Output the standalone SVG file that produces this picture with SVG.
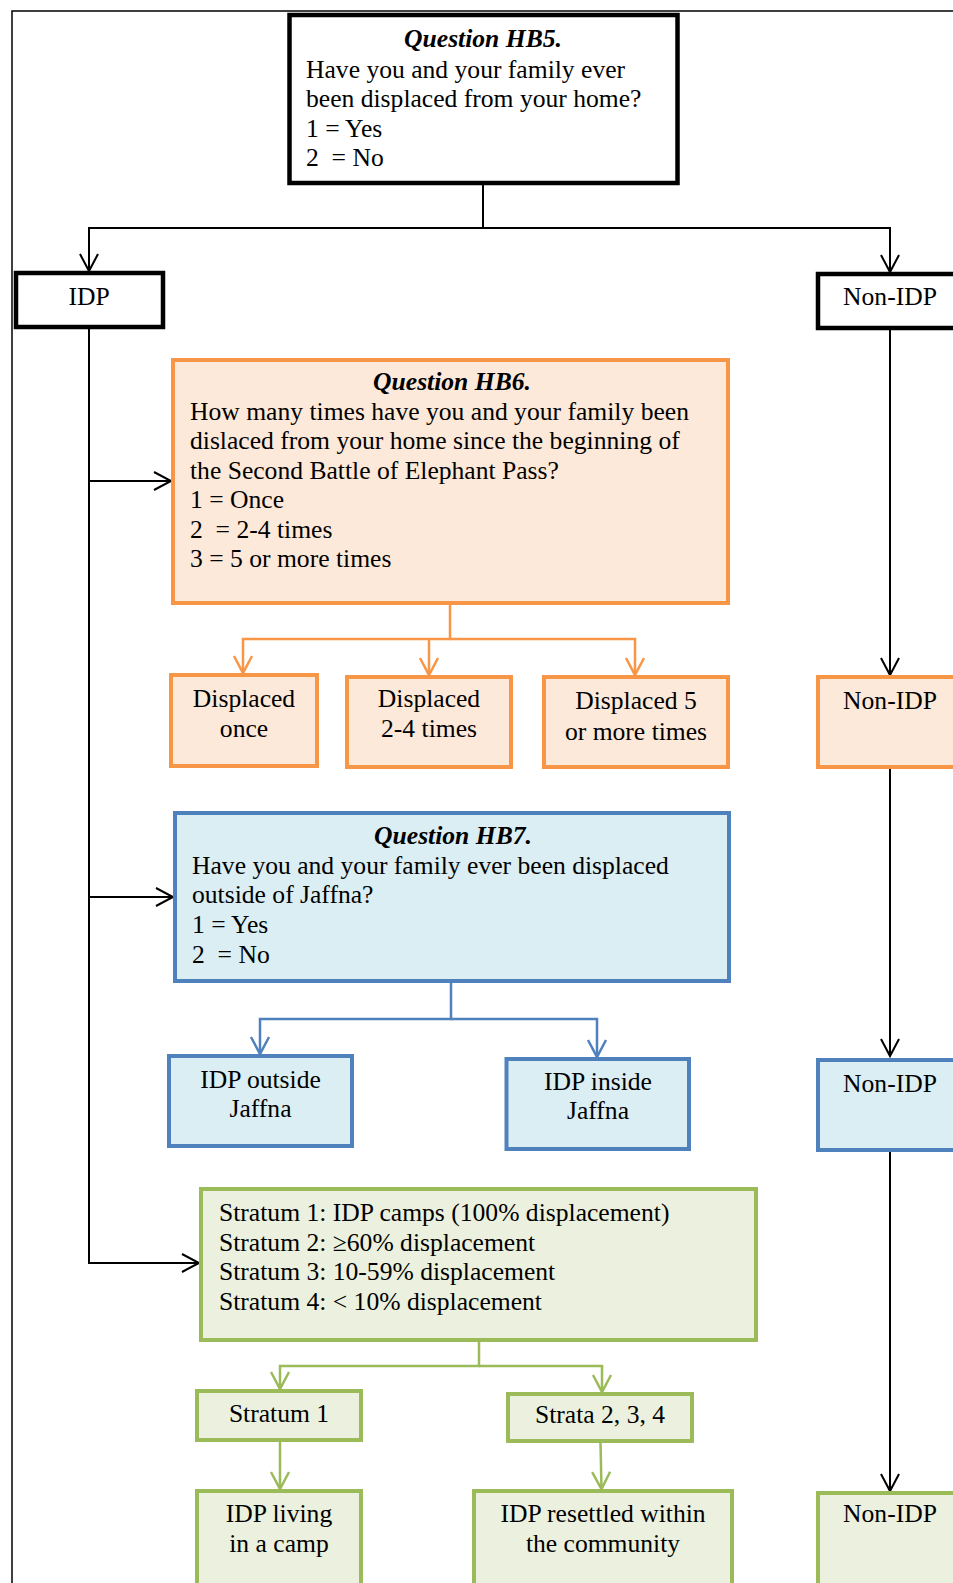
<svg xmlns="http://www.w3.org/2000/svg" width="953" height="1583" viewBox="0 0 953 1583">
<defs>
<style>
text{font-family:"Liberation Serif","Times New Roman",serif;font-size:25.6px;fill:#000;white-space:pre}
.t{font-weight:bold;font-style:italic;text-anchor:middle}
.c{text-anchor:middle}
.bk{fill:#fff;stroke:#000;stroke-width:4.5}
.or{fill:#FDE9D9;stroke:#F79646;stroke-width:4}
.bl{fill:#DBEEF3;stroke:#4F81BD;stroke-width:4}
.gr{fill:#EBF1DE;stroke:#9BBB59;stroke-width:4}
.lk{fill:none;stroke:#000;stroke-width:2}
.lo{fill:none;stroke:#F79646;stroke-width:2.5}
.lb{fill:none;stroke:#4F81BD;stroke-width:2.5}
.lg{fill:none;stroke:#9BBB59;stroke-width:2.5}
</style>
<marker id="ak" markerUnits="userSpaceOnUse" markerWidth="24" markerHeight="24" refX="0" refY="0" orient="auto" overflow="visible"><path d="M-17,-9 L0,0 L-17,9" fill="none" stroke="#000" stroke-width="2"/></marker>
<marker id="ao" markerUnits="userSpaceOnUse" markerWidth="24" markerHeight="24" refX="0" refY="0" orient="auto" overflow="visible"><path d="M-17,-9 L0,0 L-17,9" fill="none" stroke="#F79646" stroke-width="2.5"/></marker>
<marker id="ab" markerUnits="userSpaceOnUse" markerWidth="24" markerHeight="24" refX="0" refY="0" orient="auto" overflow="visible"><path d="M-17,-9 L0,0 L-17,9" fill="none" stroke="#4F81BD" stroke-width="2.5"/></marker>
<marker id="ag" markerUnits="userSpaceOnUse" markerWidth="24" markerHeight="24" refX="0" refY="0" orient="auto" overflow="visible"><path d="M-17,-9 L0,0 L-17,9" fill="none" stroke="#9BBB59" stroke-width="2.5"/></marker>
</defs>
<rect width="953" height="1583" fill="#fff"/>
<path d="M12,1583 V11 H953" fill="none" stroke="#000" stroke-width="1.5"/>

<g id="connectors">
<path class="lk" d="M483,185 V228 H89 V271" marker-end="url(#ak)"/>
<path class="lk" d="M483,228 H890 V272" marker-end="url(#ak)"/>
<path class="lk" d="M89,328 V1263 H199" marker-end="url(#ak)"/>
<path class="lk" d="M89,481 H171" marker-end="url(#ak)"/>
<path class="lk" d="M89,897 H173" marker-end="url(#ak)"/>
<path class="lk" d="M890,329 V675" marker-end="url(#ak)"/>
<path class="lk" d="M890,769 V1056" marker-end="url(#ak)"/>
<path class="lk" d="M890,1152 V1491" marker-end="url(#ak)"/>
<path class="lo" d="M450,604 V639 H243 V673" marker-end="url(#ao)"/>
<path class="lo" d="M450,639 H635 V675" marker-end="url(#ao)"/>
<path class="lo" d="M429,639 V675" marker-end="url(#ao)"/>
<path class="lb" d="M451,983 V1019 H260 V1054" marker-end="url(#ab)"/>
<path class="lb" d="M451,1019 H597 V1057" marker-end="url(#ab)"/>
<path class="lg" d="M479,1342 V1366 H280 V1389" marker-end="url(#ag)"/>
<path class="lg" d="M479,1366 H602 V1392" marker-end="url(#ag)"/>
<path class="lg" d="M280,1442 V1489" marker-end="url(#ag)"/>
<path class="lg" d="M600.5,1443 L601.5,1489" marker-end="url(#ag)"/>
</g>

<g id="hb5">
<rect class="bk" x="289.5" y="15" width="388" height="168"/>
<text class="t" x="483" y="47">Question HB5.</text>
<text x="306" y="78">Have you and your family ever</text>
<text x="306" y="107">been displaced from your home?</text>
<text x="306" y="137">1 = Yes</text>
<text x="306" y="166">2  = No</text>
</g>

<g id="idp">
<rect class="bk" x="16" y="273" width="147" height="54"/>
<text class="c" x="89" y="305">IDP</text>
</g>
<g id="nonidp1">
<rect class="bk" x="818" y="274" width="200" height="54"/>
<text class="c" x="890" y="305">Non-IDP</text>
</g>

<g id="hb6">
<rect class="or" x="173" y="360" width="555" height="243"/>
<text class="t" x="452" y="390">Question HB6.</text>
<text x="190" y="420">How many times have you and your family been</text>
<text x="190" y="449">dislaced from your home since the beginning of</text>
<text x="190" y="479">the Second Battle of Elephant Pass?</text>
<text x="190" y="508">1 = Once</text>
<text x="190" y="538">2  = 2-4 times</text>
<text x="190" y="567">3 = 5 or more times</text>
</g>

<g id="once">
<rect class="or" x="171" y="675" width="146" height="91"/>
<text class="c" x="244" y="707">Displaced</text>
<text class="c" x="244" y="737">once</text>
</g>
<g id="twofour">
<rect class="or" x="347" y="677" width="164" height="90"/>
<text class="c" x="429" y="707">Displaced</text>
<text class="c" x="429" y="737">2-4 times</text>
</g>
<g id="fiveplus">
<rect class="or" x="544" y="677" width="184" height="90"/>
<text class="c" x="636" y="709">Displaced 5</text>
<text class="c" x="636" y="740">or more times</text>
</g>
<g id="nonidp2">
<rect class="or" x="818" y="677" width="200" height="90"/>
<text class="c" x="890" y="709">Non-IDP</text>
</g>

<g id="hb7">
<rect class="bl" x="175" y="813" width="554" height="168"/>
<text class="t" x="453" y="844">Question HB7.</text>
<text x="192" y="874">Have you and your family ever been displaced</text>
<text x="192" y="903">outside of Jaffna?</text>
<text x="192" y="933">1 = Yes</text>
<text x="192" y="963">2  = No</text>
</g>

<g id="outside">
<rect class="bl" x="169" y="1056" width="183" height="90"/>
<text class="c" x="260.5" y="1088">IDP outside</text>
<text class="c" x="260.5" y="1117">Jaffna</text>
</g>
<g id="inside">
<rect class="bl" x="506.5" y="1059" width="182.5" height="90"/>
<text class="c" x="598" y="1090">IDP inside</text>
<text class="c" x="598" y="1119">Jaffna</text>
</g>
<g id="nonidp3">
<rect class="bl" x="818" y="1060" width="200" height="90"/>
<text class="c" x="890" y="1092">Non-IDP</text>
</g>

<g id="strata">
<rect class="gr" x="201" y="1189" width="555" height="151"/>
<text x="219" y="1221">Stratum 1: IDP camps (100% displacement)</text>
<text x="219" y="1251">Stratum 2: ≥60% displacement</text>
<text x="219" y="1280">Stratum 3: 10-59% displacement</text>
<text x="219" y="1310">Stratum 4: &lt; 10% displacement</text>
</g>

<g id="stratum1">
<rect class="gr" x="197" y="1391" width="164" height="49"/>
<text class="c" x="279" y="1422">Stratum 1</text>
</g>
<g id="strata234">
<rect class="gr" x="508" y="1394" width="184" height="47"/>
<text class="c" x="600" y="1423">Strata 2, 3, 4</text>
</g>

<g id="camp">
<rect class="gr" x="197" y="1491" width="164" height="200"/>
<text class="c" x="279" y="1522">IDP living</text>
<text class="c" x="279" y="1552">in a camp</text>
</g>
<g id="resettled">
<rect class="gr" x="474" y="1491" width="258" height="200"/>
<text class="c" x="603" y="1522">IDP resettled within</text>
<text class="c" x="603" y="1552">the community</text>
</g>
<g id="nonidp4">
<rect class="gr" x="818" y="1493" width="200" height="200"/>
<text class="c" x="890" y="1522">Non-IDP</text>
</g>
</svg>
